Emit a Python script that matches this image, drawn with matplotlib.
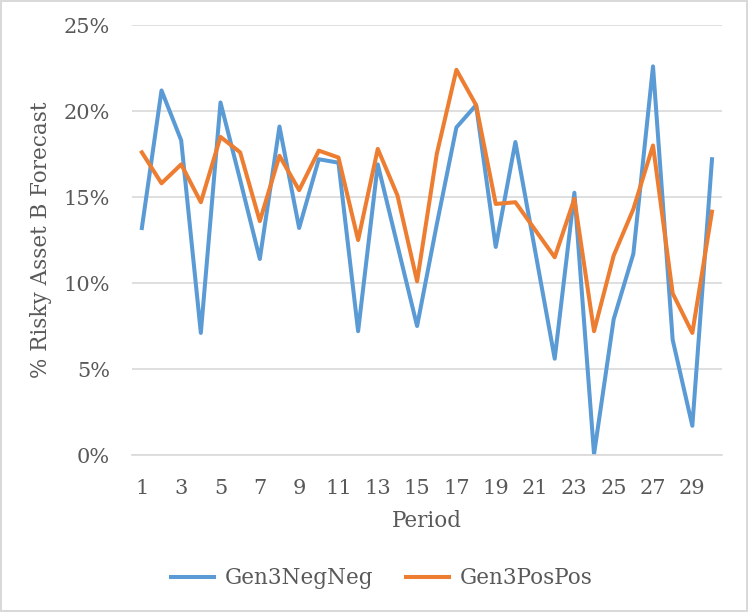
import matplotlib
matplotlib.use('Agg')
import matplotlib.pyplot as plt
from matplotlib.ticker import PercentFormatter

periods = list(range(1, 31))
gen3_neg_neg = [13.2, 21.2, 18.3, 7.1, 20.5, 16.0, 11.4, 19.1, 13.2, 17.2,
                17.0, 7.2, 16.9, 12.2, 7.5, 13.4, 19.05, 20.35, 12.1, 18.2,
                11.9, 5.6, 15.25, 0.05, 7.9, 11.7, 22.6, 6.7, 1.7, 17.2]
gen3_pos_pos = [17.6, 15.8, 16.9, 14.7, 18.5, 17.6, 13.6, 17.4, 15.4, 17.7,
                17.3, 12.5, 17.8, 15.1, 10.1, 17.5, 22.4, 20.35, 14.6, 14.7,
                13.1, 11.5, 14.9, 7.2, 11.6, 14.3, 18.0, 9.4, 7.1, 14.15]
x_ticks = list(range(1, 30, 2))

TEXT = '#595959'
plt.rcParams['font.family'] = ['DejaVu Serif']

fig = plt.figure(figsize=(7.48, 6.12), dpi=100)
fig.patch.set_edgecolor('#d9d9d9')
fig.patch.set_linewidth(1.5)
ax = fig.add_axes([0.1765, 0.2565, 0.7885, 0.7025])

ax.plot(periods, [v / 100 for v in gen3_neg_neg], color='#5B9BD5', linewidth=2.9,
        solid_joinstyle='round', label='Gen3NegNeg')
ax.plot(periods, [v / 100 for v in gen3_pos_pos], color='#ED7D31', linewidth=2.9,
        solid_joinstyle='round', label='Gen3PosPos')

ax.set_xlim(0.5, 30.5)
ax.set_ylim(0, 0.25)
ax.set_yticks([0, 0.05, 0.10, 0.15, 0.20, 0.25])
ax.yaxis.set_major_formatter(PercentFormatter(1.0, decimals=0))
ax.set_xticks(x_ticks)
ax.tick_params(axis='both', length=0, labelsize=15, colors=TEXT)
ax.tick_params(axis='x', pad=17)
ax.tick_params(axis='y', pad=16)

ax.grid(axis='y', color='#d9d9d9', linewidth=1.2)
ax.set_axisbelow(True)
for s in ['top', 'right', 'left']:
    ax.spines[s].set_visible(False)
ax.spines['bottom'].set_color('#d9d9d9')
ax.spines['bottom'].set_linewidth(1.2)

ax.set_xlabel('Period', fontsize=15.5, color=TEXT, labelpad=9)
ax.set_ylabel('% Risky Asset B Forecast', fontsize=15.5, color=TEXT, labelpad=8)

fig.legend(loc='center', bbox_to_anchor=(0.51, 0.055), ncol=2, frameon=False,
           fontsize=15.5, labelcolor=TEXT, handlelength=2.0, columnspacing=1.5,
           handletextpad=0.5)

fig.savefig('out.png', dpi=100, edgecolor=fig.get_edgecolor())
